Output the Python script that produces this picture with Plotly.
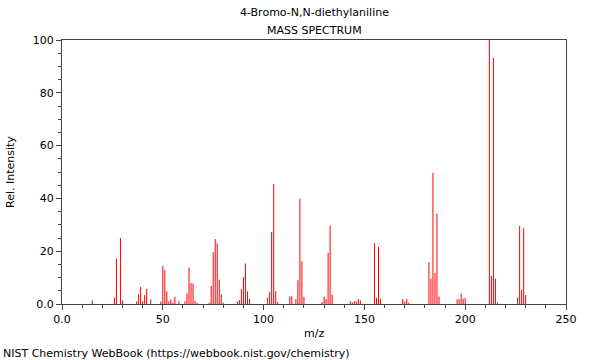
import plotly.graph_objects as go

mz = [15, 26, 27, 29, 30, 37, 38, 39, 40, 41, 42, 44,
      49, 50, 51, 52, 53, 54, 55, 56, 58,
      61, 62, 63, 64, 65, 66, 67,
      73, 74, 75, 76, 77, 78, 79, 80,
      87, 88, 89, 90, 91, 92, 93,
      102, 103, 104, 105, 106, 107,
      113, 114, 116, 117, 118, 119, 120,
      129, 130, 131, 132, 133, 134,
      143, 144, 145, 146, 147, 148,
      155, 156, 157, 158,
      169, 170, 171, 172,
      182, 183, 184, 185, 186, 187,
      196, 197, 198, 199, 200,
      212, 213, 214, 215, 216,
      226, 227, 228, 229, 230]
intensity = [1.4, 2.5, 17.2, 25.0, 1.4, 1.0, 3.7, 6.4, 1.0, 3.4, 5.7, 1.8,
             0.9, 14.4, 12.9, 4.8, 1.0, 1.8, 0.5, 2.7, 1.0,
             1.0, 4.0, 13.8, 8.0, 7.7, 1.2, 0.5,
             0.5, 6.8, 19.6, 24.6, 23.0, 9.2, 3.7, 0.5,
             0.9, 1.5, 5.6, 10.2, 15.3, 4.8, 1.9,
             2.5, 4.5, 27.3, 45.5, 4.8, 0.8,
             2.9, 2.9, 1.8, 9.0, 39.9, 16.2, 2.7,
             0.8, 2.8, 1.9, 19.4, 29.7, 3.5,
             1.0, 0.6, 1.0, 1.0, 1.9, 1.4,
             23.0, 2.3, 21.6, 1.9,
             1.9, 0.9, 1.9, 0.5,
             15.8, 9.6, 49.7, 11.7, 34.2, 2.8,
             1.8, 1.8, 3.8, 2.0, 2.3,
             100.0, 10.7, 93.2, 9.6, 0.5,
             2.4, 29.5, 5.4, 28.7, 3.4]

x_ticks = [0, 50, 100, 150, 200, 250]
x_labels = ["0.0", "50", "100", "150", "200", "250"]
y_ticks = [0, 20, 40, 60, 80, 100]
y_labels = ["0.0", "20", "40", "60", "80", "100"]

xs, ys = [], []
for m, v in zip(mz, intensity):
    xs += [m, m, None]
    ys += [0, v, None]

fig = go.Figure()
fig.add_trace(go.Scatter(x=xs, y=ys, mode="lines",
                         line=dict(color="#ff0000", width=1),
                         hoverinfo="skip", showlegend=False))

font = dict(family="DejaVu Sans", size=11, color="#000000")
axis_common = dict(showgrid=False, zeroline=False, showline=True, mirror=True,
                   linecolor="#444444", linewidth=1, ticks="outside",
                   ticklen=5, tickcolor="#444444", tickfont=font)

fig.update_xaxes(range=[0, 250], tickvals=x_ticks, ticktext=x_labels,
                 minor=dict(dtick=10, ticklen=3, tickcolor="#444444", ticks="outside"),
                 **axis_common)
fig.update_yaxes(range=[0, 100], tickvals=y_ticks, ticktext=y_labels,
                 minor=dict(dtick=5, ticklen=3, tickcolor="#444444", ticks="outside"),
                 **axis_common)

ann = [
    dict(text="4-Bromo-N,N-diethylaniline", x=0.5, y=(304 - 13) / 264),
    dict(text="MASS SPECTRUM", x=0.5, y=(304 - 30) / 264),
    dict(text="m/z", x=0.5, y=(304 - 333) / 264),
]
annotations = []
for a in ann:
    annotations.append(dict(xref="paper", yref="paper", showarrow=False,
                            xanchor="center", yanchor="middle", font=font, **a))
annotations.append(dict(text="Rel. Intensity", xref="paper", yref="paper",
                        x=(10 - 62) / 504, y=0.5, textangle=-90, showarrow=False,
                        xanchor="center", yanchor="middle", font=font))
annotations.append(dict(text="NIST Chemistry WebBook (https://webbook.nist.gov/chemistry)",
                        xref="paper", yref="paper", x=(1 - 62) / 504,
                        y=(304 - 353) / 264, showarrow=False,
                        xanchor="left", yanchor="middle", font=font))

fig.update_layout(width=600, height=360, margin=dict(l=62, r=34, t=40, b=56),
                  paper_bgcolor="white", plot_bgcolor="white",
                  annotations=annotations, font=font)

fig.write_html("out.html", config={"displayModeBar": False, "staticPlot": True},
               post_script="document.body.style.margin='0';document.body.style.overflow='hidden';")
